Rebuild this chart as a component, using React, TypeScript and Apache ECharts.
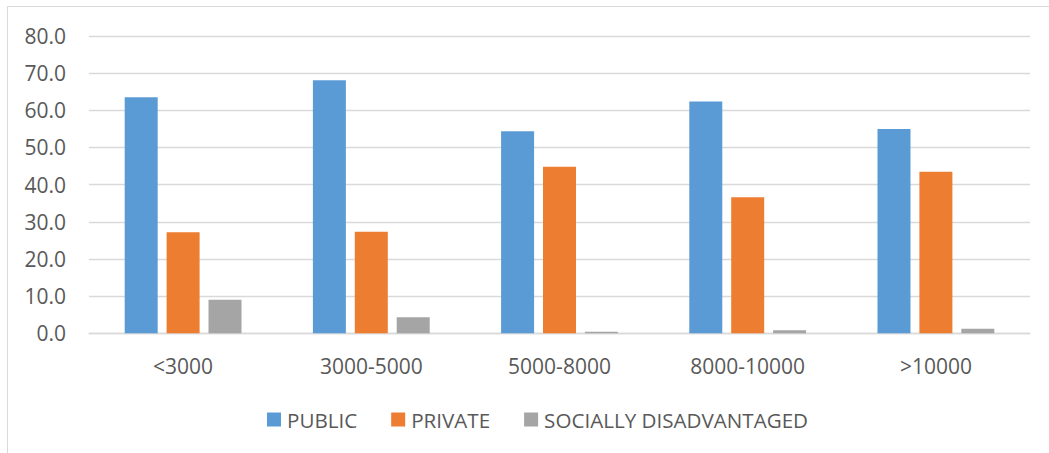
import React, { useEffect, useRef } from "react";
import * as echarts from "echarts";

const categories = ["<3000", "3000-5000", "5000-8000", "8000-10000", ">10000"];
const seriesNames = ["PUBLIC", "PRIVATE", "SOCIALLY DISADVANTAGED"];
const publicValues = [63.5, 68.1, 54.4, 62.4, 55.0];
const privateValues = [27.2, 27.3, 44.8, 36.6, 43.5];
const sociallyDisadvantagedValues = [9.0, 4.3, 0.4, 0.8, 1.2];
const yTicks = [0, 10, 20, 30, 40, 50, 60, 70, 80];

const colors = ["#5B9BD5", "#ED7D31", "#A5A5A5"];
const FONT = "'Open Sans', sans-serif";
const TEXT_COLOR = "#595959";

export default function App() {
  const ref = useRef<HTMLDivElement>(null);

  useEffect(() => {
    document.body.style.margin = "0";
    const chart = echarts.init(ref.current!, undefined, { renderer: "svg" });
    const values = [publicValues, privateValues, sociallyDisadvantagedValues];
    chart.setOption({
      animation: false,
      backgroundColor: "#ffffff",
      textStyle: { fontFamily: FONT },
      graphic: [
        {
          type: "rect",
          shape: { x: 7.5, y: 6.5, width: 1200, height: 600 },
          style: { fill: "none", stroke: "#d9d9d9", lineWidth: 1 },
          silent: true,
        },
      ],
      grid: { left: 89, right: 19, top: 36, bottom: 119.7, containLabel: false },
      legend: {
        data: seriesNames,
        left: 267,
        top: 409,
        padding: 0,
        itemWidth: 14,
        itemHeight: 14,
        itemGap: 34,
        icon: "rect",
        textStyle: { fontFamily: FONT, fontSize: 20.6, color: TEXT_COLOR, padding: [0, 0, 0, 1] },
      },
      xAxis: {
        type: "category",
        data: categories,
        axisLine: { show: true, lineStyle: { color: "#d9d9d9", width: 1.3 } },
        axisTick: { show: false },
        axisLabel: { fontFamily: FONT, fontSize: 21, color: TEXT_COLOR, margin: 22 },
      },
      yAxis: {
        type: "value",
        min: yTicks[0],
        max: yTicks[yTicks.length - 1],
        interval: 10,
        axisLine: { show: false },
        axisTick: { show: false },
        splitLine: { lineStyle: { color: "#d9d9d9", width: 1.3 } },
        axisLabel: {
          fontFamily: FONT,
          fontSize: 21,
          color: TEXT_COLOR,
          margin: 23,
          formatter: (v: number) => v.toFixed(1),
        },
      },
      series: seriesNames.map((name, i) => ({
        name,
        type: "bar",
        data: values[i],
        barWidth: 33,
        barGap: "27%",
        itemStyle: { color: colors[i] },
      })),
    });
    return () => chart.dispose();
  }, []);

  return (
    <div
      ref={ref}
      style={{ position: "fixed", left: 0, top: 0, width: 1049, height: 453 }}
    />
  );
}
